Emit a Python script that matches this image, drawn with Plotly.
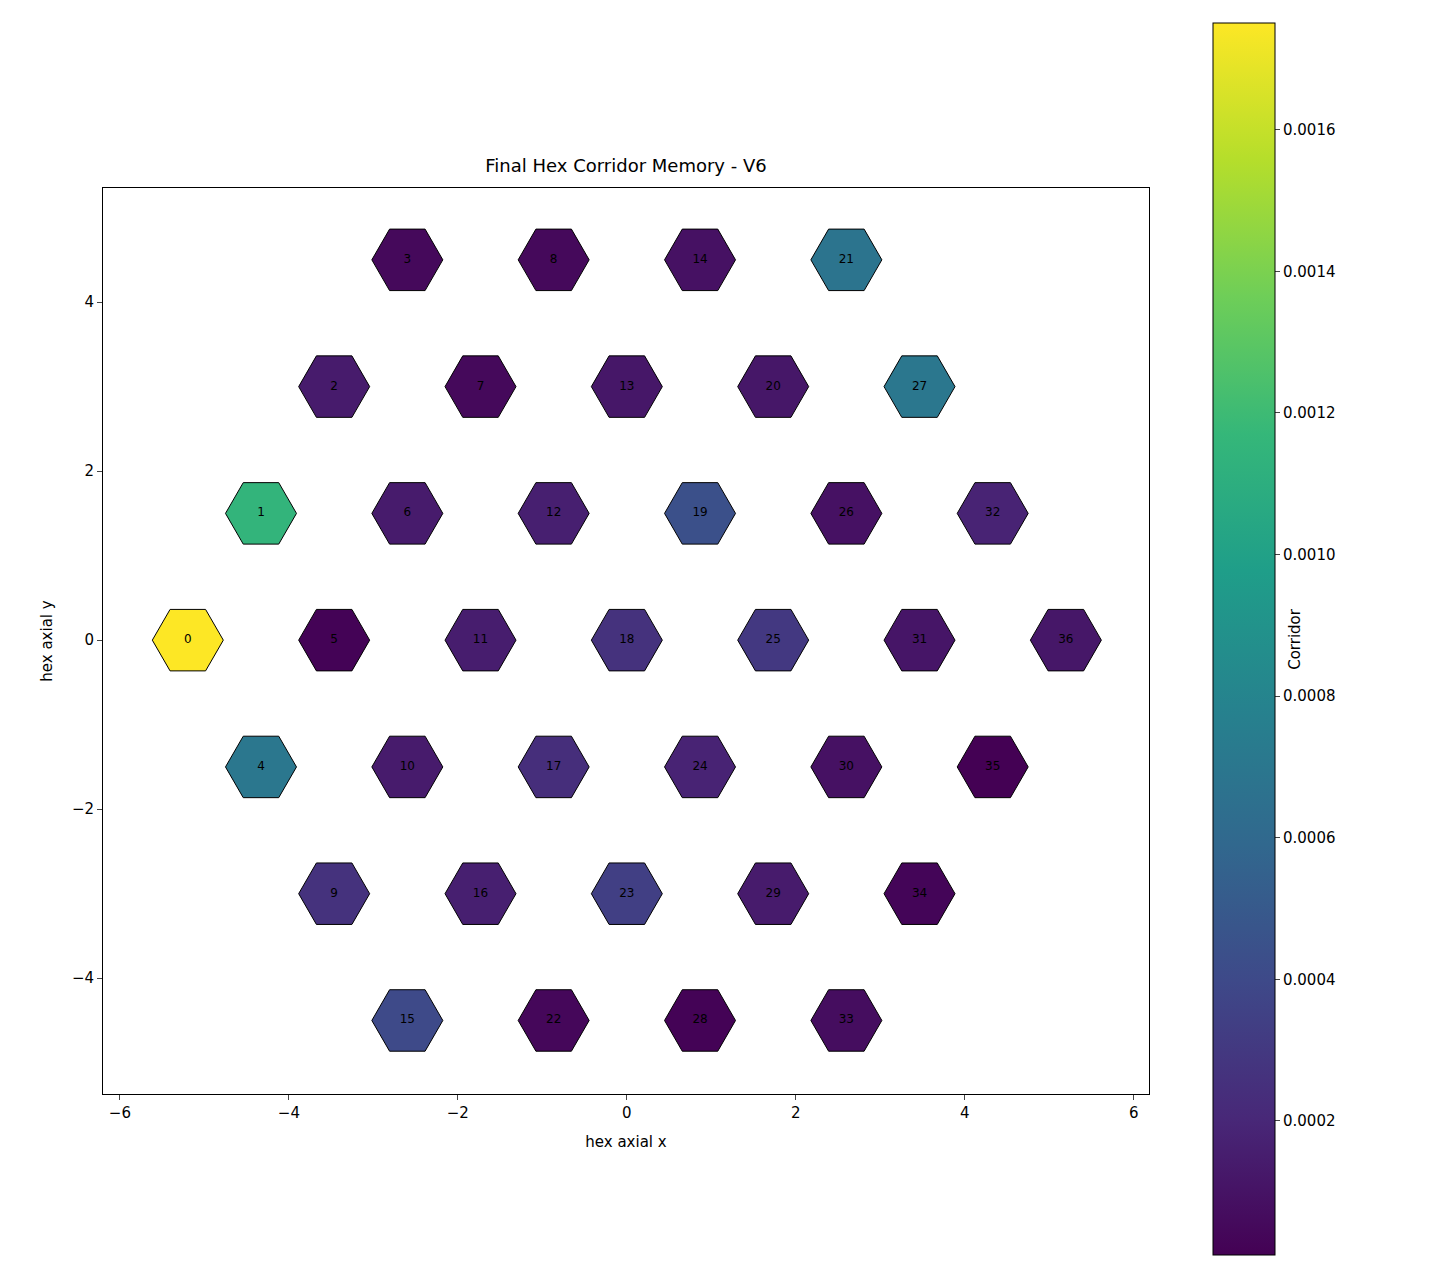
import numpy as np
import plotly.graph_objects as go

cell_q = [-3]*4 + [-2]*5 + [-1]*6 + [0]*7 + [1]*6 + [2]*5 + [3]*4
cell_r = [0,1,2,3, -1,0,1,2,3, -2,-1,0,1,2,3, -3,-2,-1,0,1,2,3,
          -3,-2,-1,0,1,2, -3,-2,-1,0,1, -3,-2,-1,0]
corridor = [0.00175, 0.00115, 0.00014, 0.00005, 0.00070, 0.00002, 0.00014, 0.00005,
            0.00005, 0.00026, 0.00014, 0.00015, 0.00016, 0.00012, 0.00009, 0.00040,
            0.00016, 0.00024, 0.00026, 0.00044, 0.00012, 0.00068, 0.00004, 0.00034,
            0.00018, 0.00030, 0.00009, 0.00070, 0.00002, 0.00014, 0.00009, 0.00011,
            0.00018, 0.00007, 0.00003, 0.00001, 0.00012]
labels = [str(i) for i in range(len(corridor))]

q = np.array(cell_q); r = np.array(cell_r)
x = np.sqrt(3) * (q + r / 2)
y = 1.5 * r

fig = go.Figure(go.Scatter(
    x=x, y=y, mode="markers+text", text=labels,
    textfont=dict(size=12, color="black", family="DejaVu Sans"),
    marker=dict(symbol="hexagon2", size=71, color=corridor, colorscale="Viridis",
                cmin=min(corridor), cmax=max(corridor),
                line=dict(color="black", width=1),
                colorbar=dict(title=dict(text="Corridor", side="right", font=dict(size=15)),
                              x=1.0515, xanchor="left", thickness=62,
                              lenmode="pixels", len=1252, y=0.5017, yanchor="middle",
                              tickvals=[0.0002,0.0004,0.0006,0.0008,0.0010,0.0012,0.0014,0.0016],
                              tickformat=".4f", ticks="outside", ticklen=5,
                              outlinecolor="black", outlinewidth=1,
                              tickfont=dict(size=15))),
    showlegend=False, hoverinfo="skip"))

ax = dict(showgrid=False, zeroline=False, showline=True, linecolor="black", mirror=True,
          ticks="outside", ticklen=5, tickfont=dict(size=15), dtick=2)
fig.update_layout(
    width=1440, height=1280, plot_bgcolor="white", paper_bgcolor="white",
    margin=dict(l=95, r=299, t=180, b=194),
    font=dict(family="DejaVu Sans", color="black"),
    title=dict(text="Final Hex Corridor Memory - V6", x=(95+1141)/2/1440, xanchor="center",
               y=1-158/1280, yanchor="middle", font=dict(size=18)),
    xaxis=dict(ax, range=[-6.2, 6.18], title=dict(text="hex axial x", font=dict(size=15))),
    yaxis=dict(ax, range=[-5.37, 5.35], title=dict(text="hex axial y", font=dict(size=15))),
)
fig.write_html("out.html")
